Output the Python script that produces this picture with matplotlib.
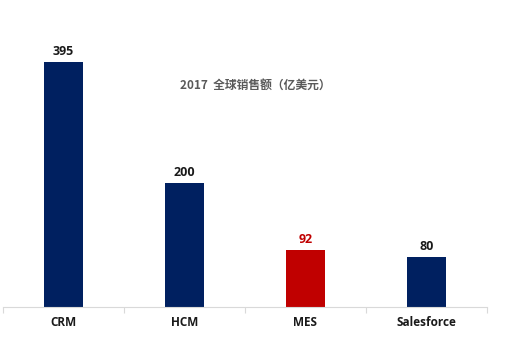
import matplotlib
matplotlib.use("Agg")
import matplotlib.pyplot as plt

categories = ["CRM", "HCM", "MES", "Salesforce"]
values = [395, 200, 92, 80]
bar_colors = ["#002060", "#002060", "#C00000", "#002060"]
label_colors = ["#1a1a1a", "#1a1a1a", "#C00000", "#1a1a1a"]
title = "2017  全球销售额（亿美元）"

plt.rcParams['font.family'] = ['Noto Sans CJK SC', 'DejaVu Sans']

W, H = 508, 363
fig = plt.figure(figsize=(W/100, H/100), dpi=100)
ymax = 450
px_per_unit = 245/395
ax_h = ymax * px_per_unit
ax = fig.add_axes([3/W, 56/H, 484/W, ax_h/H])
x = range(len(categories))
ax.bar(x, values, width=0.315, color=bar_colors)
ax.set_xlim(-0.5, len(categories)-0.5)
ax.set_ylim(0, ymax)
for i, (v, c) in enumerate(zip(values, label_colors)):
    ax.annotate(str(v), (i, v), xytext=(0, 3), textcoords="offset points",
                ha="center", va="bottom", fontsize=9, fontweight="bold", color=c,
                family=["Open Sans", "DejaVu Sans"])
for s in ["top", "right", "left"]:
    ax.spines[s].set_visible(False)
ax.spines["bottom"].set_color("#d9d9d9")
ax.set_yticks([])
ax.set_xticks([i - 0.5 for i in range(len(categories)+1)], minor=False)
ax.set_xticklabels([])
ax.tick_params(axis="x", length=4, color="#d9d9d9")
for i, cat in enumerate(categories):
    ax.text(i, -14, cat, ha="center", va="top", fontsize=8.5, fontweight="bold",
            color="#1a1a1a", family=["Open Sans", "DejaVu Sans"])
fig.text(255/W, 1 - 85/H, title, ha="center", va="center", fontsize=8.5,
         fontweight="bold", color="#595959")
fig.savefig("out.png", dpi=100)
